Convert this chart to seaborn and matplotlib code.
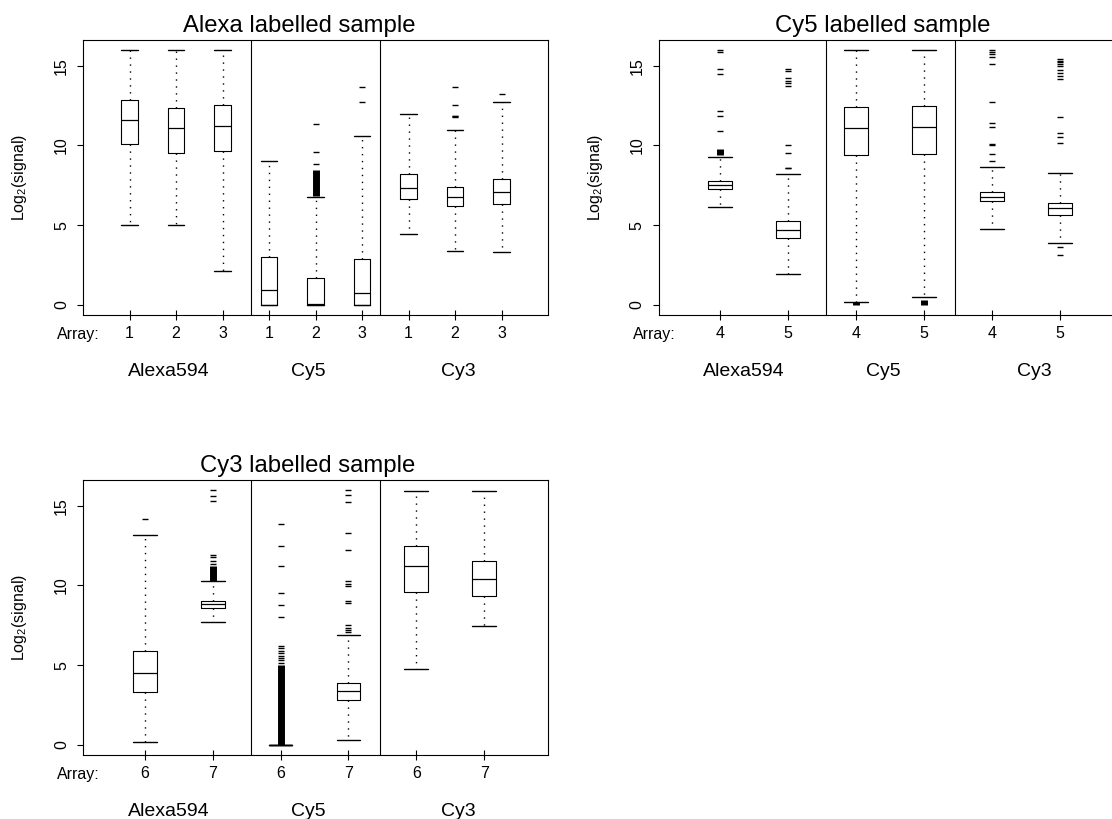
import matplotlib
matplotlib.use("Agg")
import matplotlib.pyplot as plt
import pandas as pd
import seaborn as sns

# ---- data (log2 signal) ----
panel_titles = ["Alexa labelled sample", "Cy5 labelled sample", "Cy3 labelled sample"]
dyes = ["Alexa594", "Cy5", "Cy3"]
arrays = [[1, 2, 3], [4, 5], [6, 7]]

# box statistics per box, dye-major then array: (lower whisker, Q1, median, Q3, upper whisker)
alexa_stats = [
    (5.00, 10.10, 11.58, 12.82, 16.00), (5.00, 9.54, 11.08, 12.33, 16.00), (2.10, 9.63, 11.24, 12.54, 16.00),
    (0.00, 0.00, 0.92, 2.98, 9.04), (0.00, 0.00, 0.04, 1.66, 6.74), (0.00, 0.00, 0.73, 2.87, 10.61),
    (4.41, 6.65, 7.32, 8.18, 11.96), (3.38, 6.21, 6.73, 7.41, 10.97), (3.29, 6.31, 7.05, 7.91, 12.69),
]
cy5_stats = [
    (6.15, 7.24, 7.50, 7.78, 9.30), (1.93, 4.22, 4.72, 5.27, 8.22),
    (0.19, 9.38, 11.10, 12.42, 16.00), (0.48, 9.44, 11.18, 12.48, 16.00),
    (4.76, 6.48, 6.78, 7.09, 8.64), (3.88, 5.66, 6.04, 6.36, 8.27),
]
cy3_stats = [
    (0.17, 3.30, 4.49, 5.91, 13.16), (7.71, 8.59, 8.84, 9.00, 10.26),
    (0.00, 0.00, 0.00, 0.00, 0.00), (0.33, 2.84, 3.40, 3.89, 6.87),
    (4.78, 9.59, 11.24, 12.49, 15.95), (7.42, 9.36, 10.40, 11.51, 15.95),
]

# individual outliers per box
alexa_fliers = [
    [], [], [],
    [], [8.81, 9.57, 11.32], [12.75, 13.66],
    [], [11.77, 11.82, 11.87, 12.52, 13.68], [13.20],
]
cy5_fliers = [
    [10.91, 11.87, 12.13, 14.45, 14.79, 15.84, 16.00],
    [8.55, 8.60, 9.55, 10.03, 13.75, 13.90, 14.05, 14.20, 14.64, 14.79],
    [], [],
    [9.00, 9.46, 10.05, 10.10, 11.14, 11.43, 12.71, 15.10, 15.55, 15.70, 15.85, 16.00],
    [3.10, 3.62, 10.13, 10.55, 10.80, 11.80, 14.15, 14.35, 14.55, 14.75, 14.95, 15.10, 15.20, 15.30, 15.40],
]
cy3_fliers = [
    [14.16],
    [11.35, 11.55, 11.75, 11.93, 15.29, 15.63, 15.96],
    [5.15, 5.30, 5.45, 5.60, 5.75, 5.90, 6.05, 6.20, 8.02, 8.77, 9.50, 11.24, 12.49, 13.83],
    [7.05, 7.20, 7.35, 7.54, 8.90, 9.05, 9.94, 10.11, 10.26, 12.24, 13.29, 15.21, 15.69, 15.96],
    [], [],
]

# ranges so packed with outliers that they print as a solid bar
alexa_dense = [None, None, None, None, (6.80, 8.45), None, None, None, None]
cy5_dense = [(9.40, 9.80), None, (0.00, 0.15), (0.00, 0.30), None, None]
cy3_dense = [None, (10.30, 11.20), (0.00, 5.00), None, None, None]

all_stats = [alexa_stats, cy5_stats, cy3_stats]
all_fliers = [alexa_fliers, cy5_fliers, cy3_fliers]
all_dense = [alexa_dense, cy5_dense, cy3_dense]

# ---- style ----
sns.set_theme(style="ticks")
plt.rcParams["font.family"] = ["Liberation Sans", "DejaVu Sans"]
plt.rcParams["mathtext.fontset"] = "custom"
plt.rcParams["mathtext.rm"] = "Liberation Sans"
plt.rcParams["axes.linewidth"] = 0.8
plt.rcParams["axes.edgecolor"] = "black"
plt.rcParams["text.color"] = "black"
plt.rcParams["axes.labelcolor"] = "black"
plt.rcParams["xtick.color"] = "black"
plt.rcParams["ytick.color"] = "black"

W, H = 1112, 819
fig = plt.figure(figsize=(W / 100, H / 100), dpi=100)
fig.patch.set_facecolor("white")


def px_axes(left, top, width, height):
    return fig.add_axes([left / W, 1 - (top + height) / H, width / W, height / H])


panel_boxes = [(83, 39.5, 465, 275.5), (658.5, 39.5, 465, 275.5), (83, 479.5, 465, 275.5)]
xlims = [(0, 10), (0.09, 6.94), (0.09, 6.94)]
sep_frac = [0.361, 0.638]
dye_label_frac = [0.184, 0.484, 0.808]

for p in range(3):
    ax = px_axes(*panel_boxes[p])
    ax.set_facecolor("white")
    n = len(all_stats[p])
    positions = list(range(1, n + 1))

    stats = []
    for (lo, q1, med, q3, hi) in all_stats[p]:
        stats.append(dict(whislo=lo, q1=q1, med=med, q3=q3, whishi=hi, fliers=[]))

    ax.bxp(stats, positions=positions, widths=0.35, capwidths=0.35, showfliers=False,
           boxprops=dict(color="black", linewidth=0.8),
           whiskerprops=dict(color="black", linewidth=1.0, linestyle=(0, (1, 4))),
           capprops=dict(color="black", linewidth=1.0),
           medianprops=dict(color="black", linewidth=0.9))

    rows = []
    for i, fl in enumerate(all_fliers[p]):
        for v in fl:
            rows.append({"pos": positions[i], "value": v})
    fl_df = pd.DataFrame(rows, columns=["pos", "value"])
    if len(fl_df):
        sns.scatterplot(data=fl_df, x="pos", y="value", marker="_", s=20, color="black",
                        edgecolor="black", linewidth=1.0, legend=False, ax=ax)

    for i, rng in enumerate(all_dense[p]):
        if rng is not None:
            ax.vlines(positions[i], rng[0], rng[1], color="black", linewidth=5.0)

    for f in sep_frac:
        ax.plot([f, f], [0, 1], transform=ax.transAxes, color="black", linewidth=0.8)

    ax.set_xlim(*xlims[p])
    ax.set_ylim(-0.64, 16.64)
    ax.set_xlabel("")
    ax.set_ylabel("")
    ax.set_xticks(positions)
    ax.set_xticklabels([str(a) for a in arrays[p]] * 3)
    ax.set_yticks([0, 5, 10, 15])
    ax.set_yticklabels(["0", "5", "10", "15"], rotation=90, va="center")
    ax.tick_params(axis="x", direction="inout", length=7, width=0.8, pad=4.5, labelsize=11.5)
    ax.tick_params(axis="y", direction="out", length=4, width=0.8, pad=6, labelsize=11.5)
    for sp in ax.spines.values():
        sp.set_visible(True)
        sp.set_color("black")

    ax.text(0.714, 1.028, panel_titles[p], transform=ax.transAxes, ha="right", va="baseline", fontsize=17.2)
    ax.text(-0.136, 0.5, r"Log$_2$(signal)", transform=ax.transAxes, rotation=90,
            ha="center", va="center", fontsize=11.5)
    ax.text(-0.009, -0.088, "Array:", transform=ax.transAxes, ha="center", va="baseline", fontsize=11.5)
    for d, f in zip(dyes, dye_label_frac):
        ax.text(f, -0.222, d, transform=ax.transAxes, ha="center", va="baseline", fontsize=14)

fig.savefig("out.png", dpi=100, facecolor="white")
